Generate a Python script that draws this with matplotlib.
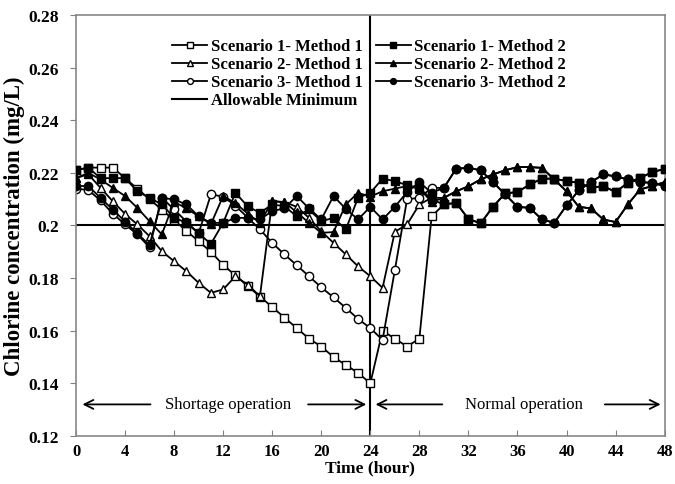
import numpy as np
import matplotlib.pyplot as plt

plt.rcParams['font.family'] = ['Liberation Serif', 'DejaVu Serif']
plt.rcParams['font.weight'] = 'bold'

hours = np.arange(0, 49)

# chlorine concentration (mg/L) at each hour
s1_m1 = [0.221, 0.222, 0.222, 0.222, 0.218, 0.214, 0.210, 0.206, 0.202, 0.198,
         0.194, 0.190, 0.185, 0.181, 0.177, 0.173, 0.169, 0.165, 0.161, 0.157,
         0.154, 0.150, 0.147, 0.144, 0.140, 0.160, 0.157, 0.154, 0.157, 0.2035,
         0.2080, 0.2086, 0.2025, 0.2008, 0.2071, 0.2122, 0.2127, 0.2156, 0.2178, 0.2178,
         0.2169, 0.2162, 0.2143, 0.2150, 0.2127, 0.2162, 0.2181, 0.2203, 0.2215]
s1_m2 = [0.221, 0.222, 0.218, 0.218, 0.218, 0.213, 0.2105, 0.208, 0.203, 0.201,
         0.197, 0.193, 0.201, 0.2124, 0.2073, 0.2048, 0.208, 0.2073, 0.2035, 0.2061,
         0.2016, 0.2029, 0.1985, 0.2105, 0.2124, 0.2178, 0.2169, 0.2153, 0.2143, 0.2099,
         0.2080, 0.2086, 0.2025, 0.2008, 0.2071, 0.2122, 0.2127, 0.2156, 0.2178, 0.2178,
         0.2169, 0.2162, 0.2143, 0.2150, 0.2127, 0.2162, 0.2181, 0.2203, 0.2215]
s2_m1 = [0.218, 0.2195, 0.2143, 0.2092, 0.2044, 0.2004, 0.1959, 0.1902, 0.1864, 0.1826,
         0.1782, 0.1744, 0.1757, 0.1807, 0.1775, 0.1731, 0.2092, 0.2089, 0.2071, 0.2029,
         0.1978, 0.1934, 0.1890, 0.1845, 0.1807, 0.1763, 0.1976, 0.2004, 0.2080, 0.2105,
         0.2105, 0.2130, 0.2149, 0.2175, 0.2194, 0.2210, 0.2222, 0.2222, 0.2219, 0.2175,
         0.2130, 0.2071, 0.2065, 0.2023, 0.2013, 0.2080, 0.2137, 0.2150, 0.2165]
s2_m2 = [0.218, 0.220, 0.2175, 0.2143, 0.2112, 0.2067, 0.2016, 0.1966, 0.2090, 0.2065,
         0.2035, 0.2005, 0.2112, 0.2085, 0.2045, 0.2010, 0.2092, 0.2089, 0.2050, 0.2010,
         0.1972, 0.1975, 0.2080, 0.2124, 0.2110, 0.2130, 0.2140, 0.2150, 0.2140, 0.2090,
         0.2105, 0.2130, 0.2149, 0.2175, 0.2194, 0.2210, 0.2222, 0.2222, 0.2219, 0.2175,
         0.2130, 0.2071, 0.2065, 0.2023, 0.2013, 0.2080, 0.2137, 0.2150, 0.2165]
s3_m1 = [0.214, 0.2135, 0.2095, 0.2045, 0.2004, 0.1966, 0.1917, 0.2105, 0.2061, 0.2015,
         0.1970, 0.2118, 0.2110, 0.2075, 0.2030, 0.1985, 0.1934, 0.1890, 0.1849, 0.1807,
         0.1765, 0.1727, 0.1687, 0.1645, 0.1610, 0.1565, 0.1830, 0.2100, 0.2105, 0.2143,
         0.2143, 0.2216, 0.2219, 0.2210, 0.2165, 0.2118, 0.2071, 0.2067, 0.2023, 0.2010,
         0.2076, 0.2134, 0.2165, 0.2194, 0.2187, 0.2175, 0.2165, 0.2162, 0.2150]
s3_m2 = [0.215, 0.215, 0.2105, 0.2060, 0.2015, 0.1970, 0.1925, 0.2105, 0.2099, 0.2080,
         0.2035, 0.2010, 0.2010, 0.2029, 0.2029, 0.2023, 0.2055, 0.2065, 0.2112, 0.2065,
         0.2023, 0.2112, 0.2063, 0.2023, 0.2071, 0.2023, 0.2071, 0.2127, 0.2165, 0.2124,
         0.2143, 0.2216, 0.2219, 0.2210, 0.2165, 0.2118, 0.2071, 0.2067, 0.2023, 0.2010,
         0.2076, 0.2134, 0.2165, 0.2194, 0.2187, 0.2175, 0.2165, 0.2162, 0.2150]

allowable_min = 0.2
switch_hour = 24

fig = plt.figure(figsize=(6.75, 4.85), dpi=100)
ax = fig.add_axes([0.1126, 0.099, 0.872, 0.868])

lw = 1.3
ms = 6
open_style = dict(color='black', lw=lw, ms=ms, mfc='white', mec='black', mew=1.0)
fill_style = dict(color='black', lw=lw, ms=ms, mfc='black', mec='black')

h1, = ax.plot(hours, s1_m1, marker='s', label='Scenario 1- Method 1', zorder=2, **open_style)
h3, = ax.plot(hours, s2_m1, marker='^', label='Scenario 2- Method 1', zorder=2, **open_style)
h5, = ax.plot(hours, s3_m1, marker='o', label='Scenario 3- Method 1', zorder=2, **open_style)
h2, = ax.plot(hours, s1_m2, marker='s', label='Scenario 1- Method 2', zorder=3, **fill_style)
h4, = ax.plot(hours, s2_m2, marker='^', label='Scenario 2- Method 2', zorder=3, **fill_style)
h6, = ax.plot(hours, s3_m2, marker='o', label='Scenario 3- Method 2', zorder=3, **fill_style)
h7 = ax.axhline(allowable_min, color='black', lw=1.5, label='Allowable Minimum', zorder=1)
ax.axvline(switch_hour, color='black', lw=1.5, zorder=1)

ax.set_xlim(0, 48)
ax.set_ylim(0.12, 0.28)
ax.set_xticks(np.arange(0, 49, 4))
ax.set_yticks(np.arange(0.12, 0.281, 0.02))
ax.set_yticklabels(['0.12', '0.14', '0.16', '0.18', '0.2', '0.22', '0.24', '0.26', '0.28'])
ax.tick_params(axis='x', direction='in', length=4, labelsize=12, color='gray', pad=5)
ax.tick_params(axis='y', direction='out', length=4, labelsize=12.5, color='gray', pad=8)
for sp in ax.spines.values():
    sp.set_color('#888888')
    sp.set_linewidth(1.2)

ax.set_xlabel('Time (hour)', fontsize=12.5, fontweight='bold', labelpad=0)
ax.set_ylabel('Chlorine concentration (mg/L)', fontsize=16.5, fontweight='bold')
ax.yaxis.set_label_coords(-0.086, 0.5)

# operation period arrows
arrow_y = 0.132
ap = dict(arrowstyle='->', color='black', lw=1.3, mutation_scale=16)
ax.annotate('', xy=(0.3, arrow_y), xytext=(6.3, arrow_y), arrowprops=ap)
ax.annotate('', xy=(23.9, arrow_y), xytext=(18.7, arrow_y), arrowprops=ap)
ax.annotate('', xy=(24.2, arrow_y), xytext=(30.1, arrow_y), arrowprops=ap)
ax.annotate('', xy=(47.9, arrow_y), xytext=(42.9, arrow_y), arrowprops=ap)
ax.text(12.4, arrow_y, 'Shortage operation', ha='center', va='center',
        fontsize=12, fontweight='normal')
ax.text(36.5, arrow_y, 'Normal operation', ha='center', va='center',
        fontsize=12, fontweight='normal')

leg = ax.legend(handles=[h1, h3, h5, h7, h2, h4, h6], ncol=2, loc='upper left',
                bbox_to_anchor=(0.138, 0.98), frameon=False, fontsize=12,
                handlelength=2.1, handletextpad=0.2, columnspacing=0.8,
                labelspacing=0.12, markerscale=0.7)

fig.savefig('out.png', dpi=100)
